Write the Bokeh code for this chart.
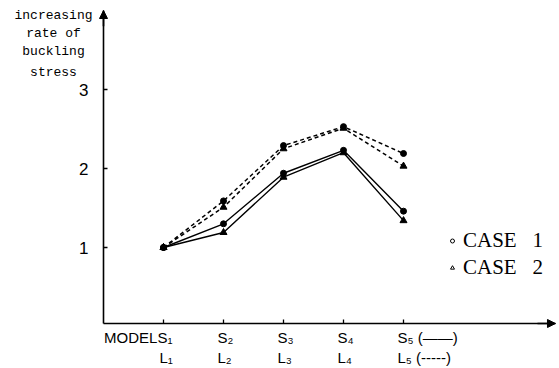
from bokeh.plotting import figure
from bokeh.models import Range1d, Label, Arrow, NormalHead, Legend, LegendItem, FixedTicker, ColumnDataSource
from bokeh.embed import file_html
from bokeh.resources import INLINE

models = [1, 2, 3, 4, 5]
s_case1 = [1.0, 1.30, 1.94, 2.23, 1.46]
s_case2 = [1.0, 1.19, 1.89, 2.20, 1.34]
l_case1 = [1.0, 1.59, 2.29, 2.53, 2.19]
l_case2 = [1.0, 1.51, 2.25, 2.51, 2.03]
y_ticks = [1, 2, 3]
top_labels = ["MODELS\u2081", "S\u2082", "S\u2083", "S\u2084", "S\u2085 (\u2014\u2014)"]
bottom_labels = ["L\u2081", "L\u2082", "L\u2083", "L\u2084", "L\u2085 (-----)"]
ylabel_lines = ["increasing", "rate of", "buckling", "stress"]
legend_labels = ["CASE\u00a0\u00a0\u00a01", "CASE\u00a0\u00a0\u00a02"]

X0, Y0 = 0.0, 0.038          # axis crossing
XMAX, YMAX = 7.533, 4.0      # arrow tips

p = figure(width=559, height=368, output_backend="svg", toolbar_location=None,
           x_range=Range1d(-1.7167, 7.6), y_range=Range1d(-0.5316, 4.1266),
           min_border=0)
p.grid.visible = False
p.outline_line_color = None
p.background_fill_color = "white"
p.border_fill_color = "white"

p.xaxis.fixed_location = Y0
p.yaxis.fixed_location = X0
p.xaxis.bounds = (X0, XMAX)
p.yaxis.bounds = (Y0, YMAX)
for ax in (p.xaxis[0], p.yaxis[0]):
    ax.axis_line_color = "black"
    ax.axis_line_width = 1.6
    ax.major_tick_line_color = "black"
    ax.major_tick_line_width = 1.3
    ax.major_tick_in = 4
    ax.major_tick_out = 0
    ax.minor_tick_line_color = None

p.xaxis.ticker = FixedTicker(ticks=models)
p.xaxis.major_label_text_font_size = "0px"
p.xaxis.major_label_text_color = None
p.yaxis.ticker = FixedTicker(ticks=y_ticks)
p.yaxis.major_label_text_font = "Liberation Sans"
p.yaxis.major_label_text_font_size = "17px"
p.yaxis.major_label_text_color = "black"
p.yaxis.major_label_standoff = 15

# lines
p.line(models, s_case1, line_color="black", line_width=1.4)
p.line(models, s_case2, line_color="black", line_width=1.4)
p.line(models, l_case1, line_color="black", line_width=1.5, line_dash="4 3")
p.line(models, l_case2, line_color="black", line_width=1.5, line_dash="4 3")
p.scatter(models, s_case1, marker="circle", size=6, color="black")
p.scatter(models, l_case1, marker="circle", size=6, color="black")
p.scatter(models, s_case2, marker="triangle", size=7, color="black")
p.scatter(models, l_case2, marker="triangle", size=7, color="black")

# legend (hollow markers); dummy renderers placed far outside the view
far = ColumnDataSource(data=dict(x=[100], y=[100]))
r1 = p.scatter(x="x", y="y", source=far, marker="circle", size=5, fill_color="white",
               line_color="black", line_width=1)
r2 = p.scatter(x="x", y="y", source=far, marker="triangle", size=6, fill_color="white",
               line_color="black", line_width=1)
legend = Legend(items=[LegendItem(label=legend_labels[0], renderers=[r1]),
                       LegendItem(label=legend_labels[1], renderers=[r2])],
                location=(447, 87), orientation="vertical",
                glyph_width=10, glyph_height=27, label_standoff=6, spacing=0,
                padding=0, margin=0, border_line_color=None, background_fill_alpha=0,
                label_text_font="Liberation Serif", label_text_font_size="21px",
                label_text_color="black", label_height=27)
p.add_layout(legend)

# axis arrow heads
p.add_layout(Arrow(x_start=X0, y_start=YMAX - 0.2, x_end=X0, y_end=YMAX,
                   line_color="black", line_width=1.6,
                   end=NormalHead(size=8, fill_color="black", line_color="black")))
p.add_layout(Arrow(x_start=XMAX - 0.3, y_start=Y0, x_end=XMAX, y_end=Y0,
                   line_color="black", line_width=1.6,
                   end=NormalHead(size=8, fill_color="black", line_color="black")))

# x category labels
lab_kw = dict(text_baseline="middle", text_font="Liberation Sans",
              text_font_size="15px", text_color="black")
for i, m in enumerate(models):
    if i == 0:
        p.add_layout(Label(x=m, y=-0.139, x_offset=9, text=top_labels[i], text_align="right", **lab_kw))
        p.add_layout(Label(x=m, y=-0.392, x_offset=-4, text=bottom_labels[i], text_align="left", **lab_kw))
    else:
        p.add_layout(Label(x=m, y=-0.139, x_offset=-6, text=top_labels[i], text_align="left", **lab_kw))
        p.add_layout(Label(x=m, y=-0.392, x_offset=-6, text=bottom_labels[i], text_align="left", **lab_kw))

# y axis title (typewriter, stacked)
ylab_y = [3.937, 3.709, 3.481, 3.215]
for t, yy in zip(ylabel_lines, ylab_y):
    p.add_layout(Label(x=-0.833, y=yy, text=t, text_align="center", text_baseline="middle",
                       text_font="Liberation Mono", text_font_size="13px", text_color="black"))

open("out.html", "w").write(file_html(p, INLINE))
